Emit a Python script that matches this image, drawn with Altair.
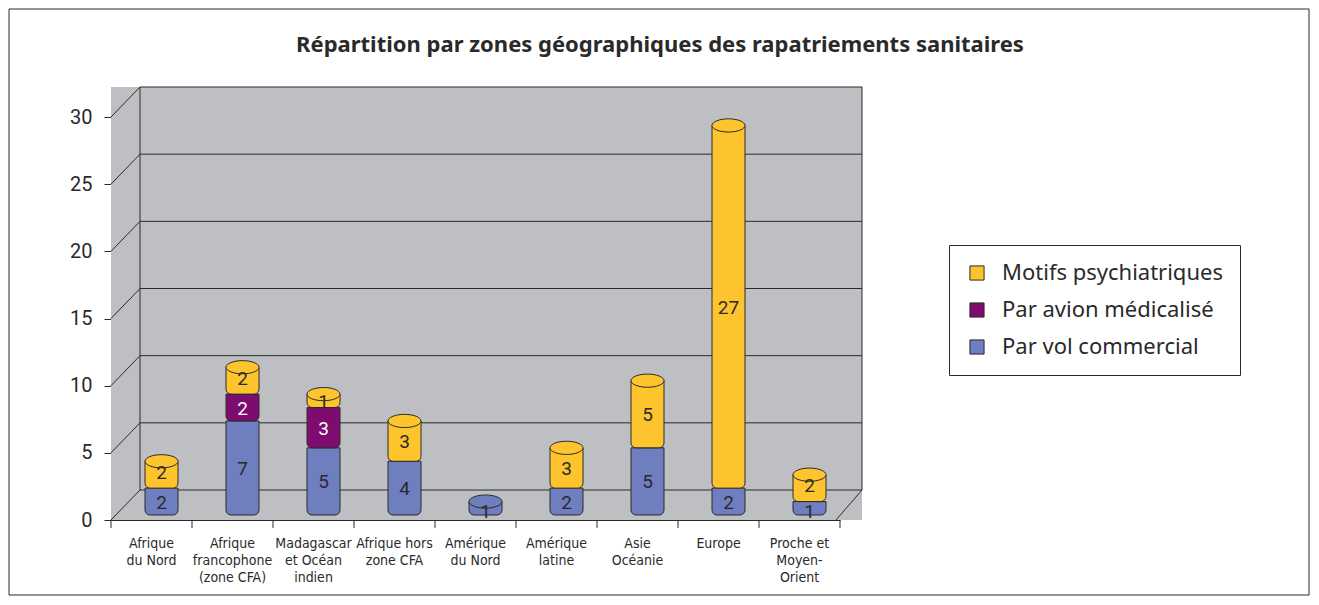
import altair as alt
import pandas as pd

# ---- data ----
zone_lines = [
    ["Afrique", "du Nord"],
    ["Afrique", "francophone", "(zone CFA)"],
    ["Madagascar", "et Océan", "indien"],
    ["Afrique hors", "zone CFA"],
    ["Amérique", "du Nord"],
    ["Amérique", "latine"],
    ["Asie", "Océanie"],
    ["Europe"],
    ["Proche et", "Moyen-", "Orient"],
]
zones = ["\n".join(l) for l in zone_lines]

series = ["Par vol commercial", "Par avion médicalisé", "Motifs psychiatriques"]
vol_commercial = [2, 7, 5, 4, 1, 2, 5, 2, 1]
avion_medicalise = [0, 2, 3, 0, 0, 0, 0, 0, 0]
motifs_psy = [2, 2, 1, 3, 0, 3, 5, 27, 2]
y_ticks = [0, 5, 10, 15, 20, 25, 30]

title_text = "Répartition par zones géographiques des rapatriements sanitaires"
legend_order = ["Motifs psychiatriques", "Par avion médicalisé", "Par vol commercial"]
colors = ["#FEC42D", "#7E0C6E", "#6E7EBF"]

rows = []
caps = []
for i, z in enumerate(zones):
    total = 0
    top = None
    for rank, (s, vals) in enumerate(zip(series, [vol_commercial, avion_medicalise, motifs_psy])):
        rows.append({"zone": z, "serie": s, "val": vals[i], "rank": rank})
        total += vals[i]
        if vals[i] > 0:
            top = s
    caps.append({"zone": z, "total": total, "serie": top})
df = pd.DataFrame(rows)
cap_df = pd.DataFrame(caps)
grid_df = pd.DataFrame({"v": y_ticks})
one = pd.DataFrame({"a": [0]})

W, H = 729, 403
DX, DY = 29, 30  # 3D depth offsets
DARK = "#2a2a2a"
GRAY = "#BEBFC3"
BAR_W = 33

yscale = alt.Scale(domain=[0, 30])
yaxis = alt.Axis(values=y_ticks, title=None, grid=False, labelFontSize=20, labelFont="Roboto",
                 labelColor=DARK, tickSize=7, tickColor=DARK, domainColor=DARK, labelPadding=12)
xscale = alt.Scale(domain=zones, paddingInner=0, paddingOuter=0)
xaxis = alt.Axis(title=None, ticks=False, labelAngle=0, labelExpr="split(datum.label, '\\n')",
                 labelFontSize=14, labelFont="DejaVu Sans Condensed", labelColor=DARK,
                 labelLineHeight=17, labelPadding=16, domainColor=DARK, labelBaseline="top")
color_scale = alt.Scale(domain=legend_order, range=colors)

# background walls
bg = alt.Chart(one).mark_rect(color=GRAY).encode(
    x=alt.value(0), x2=alt.value(W + 22), y=alt.value(-DY), y2=alt.value(H)
)
# back-wall grid lines
grid = alt.Chart(grid_df).mark_rule(color=DARK, yOffset=-DY, strokeWidth=1).encode(
    y=alt.Y("v:Q", scale=yscale, axis=yaxis), x=alt.value(DX), x2=alt.value(W + 22)
)
# side-wall diagonals
diag = alt.Chart(grid_df).mark_rule(color=DARK, y2Offset=-DY, strokeWidth=1).encode(
    y=alt.Y("v:Q", scale=yscale, axis=yaxis), y2="v:Q", x=alt.value(0), x2=alt.value(DX)
)
left_edge = alt.Chart(one).mark_rule(color=DARK).encode(
    x=alt.value(DX), y=alt.value(-DY), y2=alt.value(H - DY)
)
right_edge = alt.Chart(one).mark_rule(color=DARK).encode(
    x=alt.value(W + 22), y=alt.value(-DY), y2=alt.value(H - DY)
)
floor_edge = alt.Chart(one).mark_rule(color=DARK).encode(
    x=alt.value(W - 4), x2=alt.value(W + 22), y=alt.value(H), y2=alt.value(H - DY)
)
# category ticks at band edges
ticks = alt.Chart(pd.DataFrame({"zone": zones})).mark_rule(color=DARK).encode(
    x=alt.X("zone:N", bandPosition=0, scale=xscale, axis=xaxis, sort=zones),
    y=alt.value(H), y2=alt.value(H + 8)
)
last_tick = alt.Chart(one).mark_rule(color=DARK).encode(
    x=alt.value(W), y=alt.value(H), y2=alt.value(H + 8)
)

base = alt.Chart(df).transform_filter("datum.val > 0").transform_stack(
    stack="val", groupby=["zone"], as_=["y0", "y1"], sort=[alt.SortField("rank", order="ascending")]
).transform_calculate(
    mid="(datum.y0 + datum.y1) / 2"
    " - (datum.val == 1 && datum.rank == 0 ? 0.2 : 0)"
    " + (datum.val == 2 && datum.rank == 2 ? 0.2 : 0)"
)

bars = base.mark_bar(size=BAR_W, xOffset=10, yOffset=-5, y2Offset=-5, stroke=DARK, strokeWidth=1,
                     cornerRadiusBottomLeft=5, cornerRadiusBottomRight=5).encode(
    x=alt.X("zone:N", scale=xscale, axis=xaxis, sort=zones),
    y=alt.Y("y1:Q", scale=yscale, axis=yaxis),
    y2="y0:Q",
    color=alt.Color("serie:N", scale=color_scale,
                    legend=alt.Legend(title=None, orient="none", legendX=838, legendY=128,
                                      fillColor="white", strokeColor=DARK, padding=17,
                                      labelFontSize=22, labelFont="Noto Sans", labelColor=DARK,
                                      labelLimit=0,
                                      symbolType="square", symbolSize=200, symbolStrokeColor=DARK,
                                      symbolStrokeWidth=1, rowPadding=15, labelOffset=14)),
)
# cylinder top caps
ellipse = "M -1 0 A 1 0.4 0 1 1 1 0 A 1 0.4 0 1 1 -1 0 Z"
capmarks = alt.Chart(cap_df).mark_point(shape=ellipse, filled=True, size=BAR_W * BAR_W,
                                        stroke=DARK, strokeWidth=1, opacity=1,
                                        xOffset=10, yOffset=-5).encode(
    x=alt.X("zone:N", scale=xscale, axis=xaxis, sort=zones),
    y=alt.Y("total:Q", scale=yscale, axis=yaxis),
    fill=alt.Fill("serie:N", scale=color_scale, legend=None),
)
labels = base.mark_text(fontSize=19, font="Roboto", dx=10, dy=-4).encode(
    x=alt.X("zone:N", scale=xscale, axis=xaxis, sort=zones),
    y=alt.Y("mid:Q", scale=yscale, axis=yaxis),
    text="val:Q",
    color=alt.condition("datum.serie == 'Par avion médicalisé'", alt.value("white"), alt.value(DARK)),
)

title = alt.Chart(one).mark_text(fontSize=22, fontWeight="bold", font="Noto Sans", color=DARK,
                                 align="center", baseline="middle").encode(
    x=alt.value(549), y=alt.value(-72), text=alt.value(title_text)
)

border = alt.Chart(one).mark_rect(fill=None, stroke=DARK, strokeWidth=1).encode(
    x=alt.value(-102), x2=alt.value(1198), y=alt.value(-108), y2=alt.value(478)
)

chart = alt.layer(bg, grid, diag, left_edge, right_edge, floor_edge, ticks, last_tick,
                  bars, capmarks, labels, title, border).properties(
    width=W, height=H,
    autosize=alt.AutoSizeParams(type="none"),
    padding={"left": 103, "top": 109, "right": 471, "bottom": 77},
).configure_view(stroke=None)

chart.save("out.html", embed_options={"renderer": "svg", "actions": False})
